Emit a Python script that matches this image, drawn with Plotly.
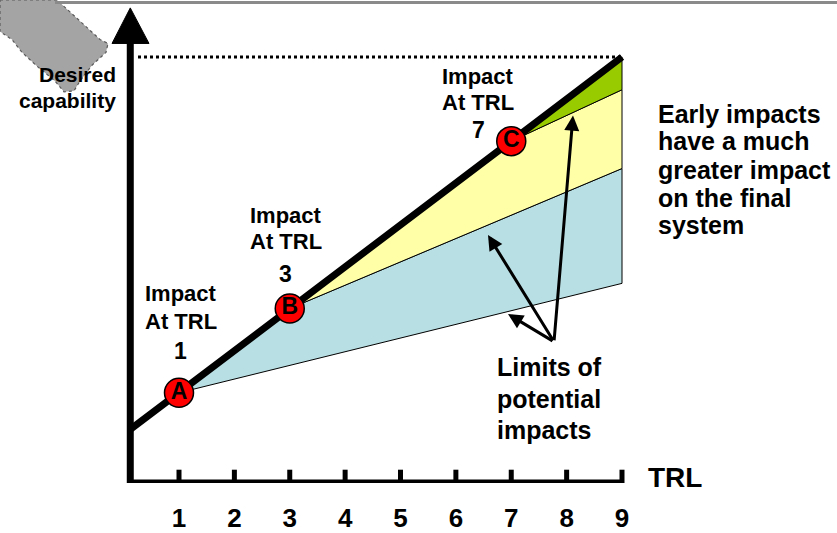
import plotly.graph_objects as go

# ---- data -------------------------------------------------------------
trl_ticks = [1, 2, 3, 4, 5, 6, 7, 8, 9]
tick_labels = ["1", "2", "3", "4", "5", "6", "7", "8", "9"]

origin_trl = 0.12          # where the two axes meet
final_trl = 9

# desired-capability trajectory (thick black line)
cap_trl = [0.12, 1, 3, 7, 9]
cap_level = [0.98, 1.65, 3.19, 6.25, 7.79]

# points where an impact happens
impact_trl = [1, 3, 7]
impact_level = [1.65, 3.19, 6.25]
impact_names = ["A", "B", "C"]

# limits of potential impact reached at TRL 9
limit_from_a = 3.65
limit_from_b = 5.75
limit_from_c = 7.19
desired_level = 7.79

# ---- pixel helpers for decoration / label placement --------------------
W, H = 837, 533
PX = 55.375          # pixels per unit on both axes
X1 = 179             # pixel column of TRL 1
Y0 = 489             # pixel row of the TRL axis


def dx(px):
    return 1 + (px - X1) / PX


def dy(py):
    return (Y0 - py) / PX


FONT = "Liberation Sans, Arial, sans-serif"
BLUE = "rgb(184,223,227)"
YELLOW = "rgb(255,255,168)"
GREEN = "rgb(153,204,0)"

fig = go.Figure()

# band from A: between its own limit and the B limit
fig.add_trace(go.Scatter(
    x=[impact_trl[0], impact_trl[1], final_trl, final_trl, impact_trl[0]],
    y=[impact_level[0], impact_level[1], limit_from_b, limit_from_a, impact_level[0]],
    fill="toself", fillcolor=BLUE, mode="lines",
    line=dict(color="black", width=1), hoverinfo="skip", showlegend=False))
# band from B
fig.add_trace(go.Scatter(
    x=[impact_trl[1], impact_trl[2], final_trl, final_trl, impact_trl[1]],
    y=[impact_level[1], impact_level[2], limit_from_c, limit_from_b, impact_level[1]],
    fill="toself", fillcolor=YELLOW, mode="lines",
    line=dict(color="black", width=1), hoverinfo="skip", showlegend=False))
# band from C
fig.add_trace(go.Scatter(
    x=[impact_trl[2], final_trl, final_trl, impact_trl[2]],
    y=[impact_level[2], desired_level, limit_from_c, impact_level[2]],
    fill="toself", fillcolor=GREEN, mode="lines",
    line=dict(color="black", width=1), hoverinfo="skip", showlegend=False))

# desired capability level (dotted)
fig.add_trace(go.Scatter(
    x=[dx(138), final_trl], y=[desired_level, desired_level], mode="lines",
    line=dict(color="black", width=3, dash="dot"),
    hoverinfo="skip", showlegend=False))

# capability trajectory
fig.add_trace(go.Scatter(
    x=cap_trl, y=cap_level, mode="lines",
    line=dict(color="black", width=7),
    hoverinfo="skip", showlegend=False))

# axes drawn as thick lines
fig.add_trace(go.Scatter(
    x=[origin_trl, origin_trl, final_trl], y=[dy(43), 0, 0], mode="lines",
    line=dict(color="black", width=7),
    hoverinfo="skip", showlegend=False))
# vertical axis arrowhead
fig.add_trace(go.Scatter(
    x=[dx(112), origin_trl, dx(149), dx(112)], y=[dy(44), dy(8), dy(44), dy(44)],
    fill="toself", fillcolor="black", mode="lines",
    line=dict(color="black", width=1), hoverinfo="skip", showlegend=False))
# TRL tick marks
fig.add_trace(go.Scatter(
    x=trl_ticks, y=[0] * len(trl_ticks), mode="markers",
    marker=dict(symbol="line-ns", size=19, line=dict(color="black", width=5)),
    hoverinfo="skip", showlegend=False))

# impact markers
fig.add_trace(go.Scatter(
    x=impact_trl, y=impact_level, mode="markers+text",
    marker=dict(size=29, color="#ff0000", line=dict(color="black", width=1.5)),
    text=["<b>%s</b>" % n for n in impact_names], textposition="middle center",
    textfont=dict(family=FONT, size=23, color="black"),
    hoverinfo="skip", showlegend=False))

ann = []


def label(text, px, py, size, anchor="center"):
    ann.append(dict(x=dx(px), y=dy(py), xref="x", yref="y", text="<b>%s</b>" % text,
                    showarrow=False, xanchor=anchor, yanchor="middle",
                    font=dict(family=FONT, size=size, color="black")))


label("Desired", 118, 75, 21, "right")
label("capability", 118, 102, 21, "right")

for cx, rows, n in [(180.5, (297, 325, 355), "1"),
                    (285.5, (218, 245, 277), "3"),
                    (478, (77, 104, 132), "7")]:
    label("Impact", cx, rows[0], 22)
    label("At TRL", cx, rows[1], 22)
    label(n, cx, rows[2], 23)

for text, py in [("Early impacts", 115), ("have a much", 143), ("greater impact", 172),
                 ("on the final", 200), ("system", 228)]:
    label(text, 656, py, 25, "left")

for text, py in [("Limits of", 372), ("potential", 404), ("impacts", 435)]:
    label(text, 495, py, 25, "left")

label("TRL", 646, 483, 28, "left")

# arrows from the "Limits" note to each limit line
tail_x, tail_y = dx(554), dy(346)
for hx, hy in [(488, 238), (508, 318), (573, 117)]:
    ann.append(dict(x=dx(hx), y=dy(hy), ax=tail_x, ay=tail_y, xref="x", yref="y",
                    axref="x", ayref="y", showarrow=True, arrowhead=2, arrowsize=1,
                    arrowwidth=3, arrowcolor="black", text=""))

# grey pen-like graphic in the top corner
blob_px = [(0, 0), (57, 0), (100, 40), (108, 44), (106, 53), (92, 66), (80, 82),
           (74, 92), (64, 93), (55, 82), (37, 67), (22, 53), (12, 40), (0, 32)]
blob_path = "M " + " L ".join("%.4f,%.4f" % (dx(a), dy(b)) for a, b in blob_px) + " Z"

shapes = [
    dict(type="path", path=blob_path, xref="x", yref="y",
         fillcolor="#a4a4a4", line=dict(color="#5a5a5a", width=1.2, dash="dot"),
         layer="below"),
    dict(type="line", xref="x", yref="y", x0=dx(55), x1=dx(837), y0=dy(2.5), y1=dy(2.5),
         line=dict(color="#8a8a8a", width=3)),
]

fig.update_layout(
    width=W, height=H,
    margin=dict(l=0, r=0, t=0, b=H - Y0, pad=0),
    paper_bgcolor="white", plot_bgcolor="white",
    xaxis=dict(range=[dx(0), dx(W)], tickvals=trl_ticks, ticktext=tick_labels,
               showgrid=False, zeroline=False, showline=False,
               ticks="outside", ticklen=12, tickcolor="rgba(0,0,0,0)",
               tickfont=dict(family=FONT, size=26, color="black", weight="bold"),
               fixedrange=True),
    yaxis=dict(range=[0, dy(0)], visible=False, fixedrange=True),
    annotations=ann, shapes=shapes, showlegend=False,
)

fig.write_html("out.html", config=dict(displayModeBar=False))
